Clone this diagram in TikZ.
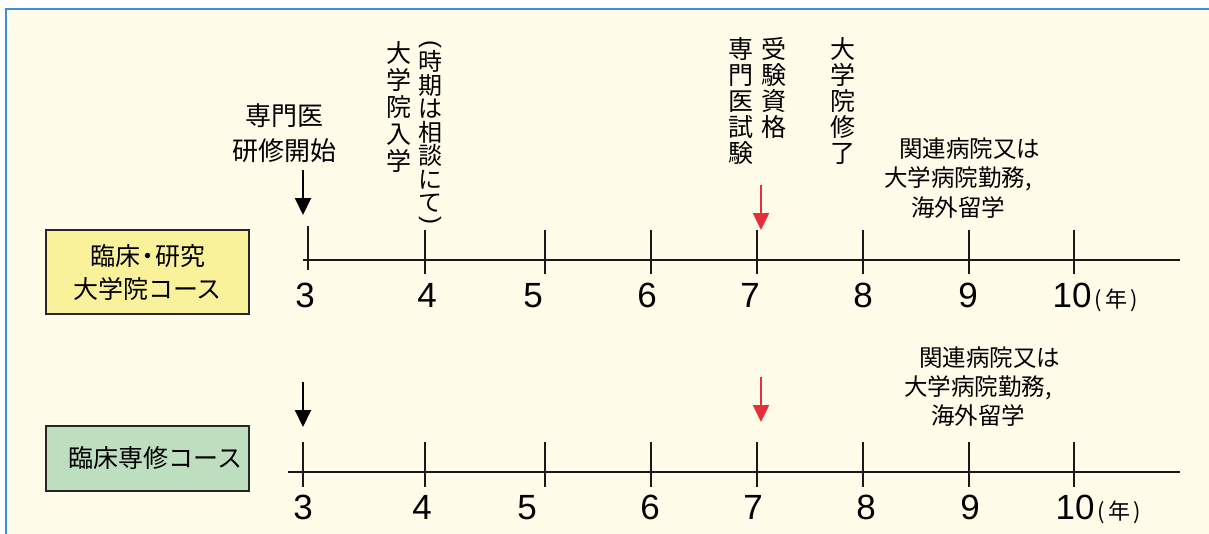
\documentclass[tikz,border=0pt]{standalone}
\usepackage{fontspec}
\usepackage{graphicx}
\setmainfont{Noto Sans CJK JP}
\newfontfamily\latinfont{Liberation Sans}
\usetikzlibrary{arrows.meta}
\definecolor{bgcream}{HTML}{FFFDE9}
\definecolor{frameblue}{HTML}{3C8FD2}
\definecolor{boxyellow}{HTML}{FAF29B}
\definecolor{boxgreen}{HTML}{BEDEC0}
\definecolor{arrowred}{HTML}{E5303C}
\newcommand\vopenparen{\rotatebox[origin=c]{-90}{\latinfont(}}
\newcommand\vcloseparen{\rotatebox[origin=c]{-90}{\latinfont)}}
\begin{document}
\begin{tikzpicture}[x=1pt,y=-1pt,
  axisline/.style={line width=1.8pt, black!90},
  tickmark/.style={line width=1.8pt, black!90},
  numlbl/.style={font=\latinfont\fontsize{35}{35}\selectfont, inner sep=0pt, anchor=base},
  yearlbl/.style={font=\fontsize{22}{22}\selectfont, inner sep=0pt, anchor=base west},
  vcol/.style={align=center, font=\fontsize{25}{26}\selectfont, inner sep=0pt, anchor=north},
  htext/.style={align=center, inner sep=0pt},
  blackarrow/.style={line width=2pt, black, -{Triangle[length=17pt,width=16pt]}},
  redarrow/.style={line width=2.5pt, arrowred, -{Triangle[length=17pt,width=16pt]}},
  coursebox/.style={draw=black!85, line width=1.5pt, minimum width=203pt, inner sep=0pt, align=center, font=\fontsize{25}{33}\selectfont}
]
\useasboundingbox (0,0) rectangle (1209,533);
\fill[white] (0,0) rectangle (1209,533);
\fill[bgcream] (6,9) rectangle (1215,545);
\draw[frameblue, line width=2.5pt] (6,545) -- (6,9) -- (1215,9);

% course boxes
\node[coursebox, fill=boxyellow, minimum height=84pt] (grad) at (147.5,272) {臨床\kern-5pt・\kern-5pt研究\\大学院コース};
\node[coursebox, fill=boxgreen, minimum height=65pt] (clin) at (147.5,458.5) {\hspace*{16pt}臨床専修コース};

% ---------- top timeline ----------
\coordinate (ts) at (303,260);
\coordinate (te) at (1180,260);
\draw[axisline] (ts) -- (te);
\draw[tickmark] (308,226) -- (308,270);
\foreach \x in {425,545,651,757,863,969,1074}
  \draw[tickmark] (\x,230) -- (\x,274);
\node[numlbl] (t3) at (305,307) {3};
\node[numlbl] (t4) at (427,307) {4};
\node[numlbl] (t5) at (533,307) {5};
\node[numlbl] (t6) at (647,307) {6};
\node[numlbl] (t7) at (750,307) {7};
\node[numlbl] (t8) at (863,307) {8};
\node[numlbl] (t9) at (968,307) {9};
\node[numlbl] (t10) at (1072,307) {10};
\node[yearlbl] (tyr) at ([xshift=3pt]t10.base east) {(\hspace{3pt}年\hspace{3pt})};

% top labels
\node[htext, font=\fontsize{26}{35}\selectfont] (start) at (284,133) {専門医\\研修開始};
\node[vcol, font=\fontsize{25}{27}\selectfont] (gentry) at (399,41) {大\\学\\院\\入\\学};
\node[vcol, font=\fontsize{24}{23.5}\selectfont] (gtime) at (430,40) {\vopenparen\\[-3pt]時\\期\\は\\相\\談\\に\\て\\[-9pt]\vcloseparen};
\node[vcol] (exam) at (741,37) {専\\門\\医\\試\\験};
\node[vcol] (qual) at (774,37) {受\\験\\資\\格};
\node[vcol] (gend) at (843,37) {大\\学\\院\\修\\了};
\node[htext, font=\fontsize{23.5}{29.5}\selectfont] (worktop) at (958,178) {　関連病院又は\\大学病院勤務,\\海外留学};

\coordinate (ab1s) at (303,170);
\coordinate (ab1e) at (303,215);
\draw[blackarrow] (ab1s) -- (ab1e);
\coordinate (ar1s) at (761,185);
\coordinate (ar1e) at (761,230);
\draw[redarrow] (ar1s) -- (ar1e);

% ---------- bottom timeline ----------
\coordinate (bs) at (288,472);
\coordinate (be) at (1180,472);
\draw[axisline] (bs) -- (be);
\foreach \x in {303,425,545,651,757,863,969,1074}
  \draw[tickmark] (\x,442) -- (\x,487);
\node[numlbl] (b3) at (303,519) {3};
\node[numlbl] (b4) at (422,519) {4};
\node[numlbl] (b5) at (527,519) {5};
\node[numlbl] (b6) at (650,519) {6};
\node[numlbl] (b7) at (753,519) {7};
\node[numlbl] (b8) at (866,519) {8};
\node[numlbl] (b9) at (970,519) {9};
\node[numlbl] (b10) at (1075,519) {10};
\node[yearlbl] (byr) at ([xshift=3pt]b10.base east) {(\hspace{3pt}年\hspace{3pt})};

\node[htext, font=\fontsize{23.5}{29}\selectfont] (workbot) at (978,387) {　関連病院又は\\大学病院勤務,\\海外留学};

\coordinate (ab2s) at (303,382);
\coordinate (ab2e) at (303,427);
\draw[blackarrow] (ab2s) -- (ab2e);
\coordinate (ar2s) at (761,377);
\coordinate (ar2e) at (761,422);
\draw[redarrow] (ar2s) -- (ar2e);
\end{tikzpicture}
\end{document}
